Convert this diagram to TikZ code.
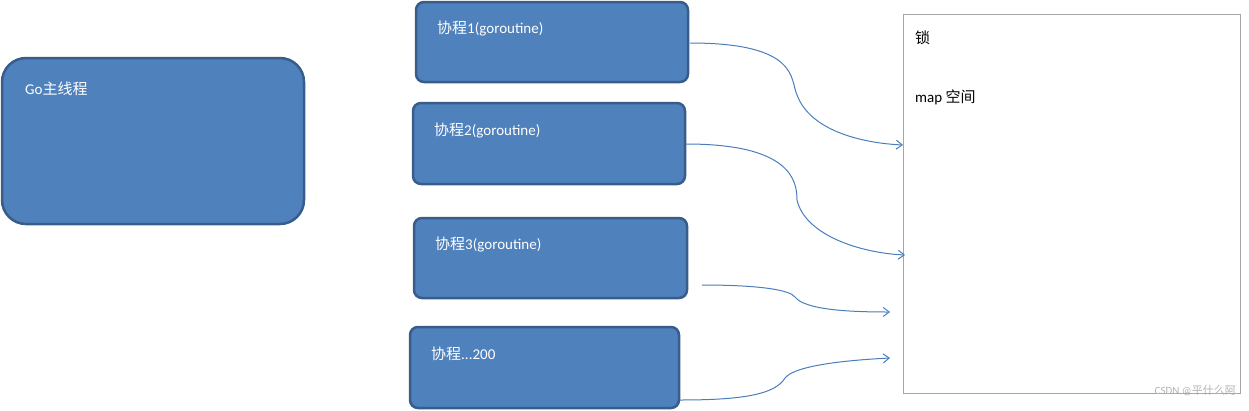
\documentclass[tikz,border=0pt]{standalone}
\usepackage{fontspec}
\setmainfont{Carlito}
\newfontfamily\cjk{Noto Sans CJK SC}
\definecolor{bfill}{HTML}{4F81BD}
\definecolor{bdraw}{HTML}{385D8A}
\definecolor{arr}{HTML}{4A7EBB}
\begin{document}
\begin{tikzpicture}[x=1pt,y=-1pt,
 blk/.style={draw=bdraw,fill=bfill,line width=2.5pt,rounded corners=8pt},
 lbl/.style={anchor=west,text=white,font=\fontsize{15}{17}\selectfont,inner sep=0},
 con/.style={draw=arr,line width=1pt,-{Straight Barb[length=6pt,width=9pt]}}]
\useasboundingbox (0,0) rectangle (1249,410);
\usetikzlibrary{arrows.meta}
\draw[blk,rounded corners=24pt] (2,58) rectangle (304,224);
\node[lbl] (main) at (25,89) {Go{\cjk 主线程}};
\draw[blk] (416,2) rectangle (688,82); \coordinate (b1) at (690,43);
\node[lbl] (l1) at (437,28) {{\cjk 协程}1(goroutine)};
\draw[blk] (413,103) rectangle (685,184); \coordinate (b2) at (686,144);
\node[lbl] (l2) at (434,130) {{\cjk 协程}2(goroutine)};
\draw[blk] (414,218) rectangle (687,298);
\node[lbl] (l3) at (435,244) {{\cjk 协程}3(goroutine)};
\draw[blk] (410,327) rectangle (679,408); \coordinate (b4) at (680,400);
\node[lbl] (l4) at (431,354) {{\cjk 协程}...200};
\draw[gray!70,line width=1pt] (903,14) rectangle (1240,393);
\node[anchor=west,inner sep=0,font=\fontsize{15}{17}\selectfont\cjk] (lock) at (915,38) {锁};
\node[anchor=west,inner sep=0,font=\fontsize{15}{17}\selectfont] (map) at (915,97) {map {\cjk 空间}};
\node[anchor=east,inner sep=0,text=gray!60,font=\fontsize{11}{13}\selectfont] (wm) at (1236,391) {CSDN @{\cjk 平什么阿}};
\coordinate (t1) at (903,145); \coordinate (t2) at (905,255);
\coordinate (s3) at (702,285); \coordinate (t3) at (890,312);
\coordinate (t4) at (890,358);
\draw[con] (b1) .. controls (800,43) and (790,80) .. (797,95) .. controls (810,130) and (860,143) .. (t1);
\draw[con] (b2) .. controls (790,144) and (797,180) .. (797,200) .. controls (805,235) and (860,253) .. (t2);
\draw[con] (s3) .. controls (760,285) and (790,290) .. (795,297) .. controls (805,310) and (850,312) .. (t3);
\draw[con] (b4) .. controls (740,400) and (775,395) .. (785,378) .. controls (795,365) and (850,360) .. (t4);
\end{tikzpicture}
\end{document}
